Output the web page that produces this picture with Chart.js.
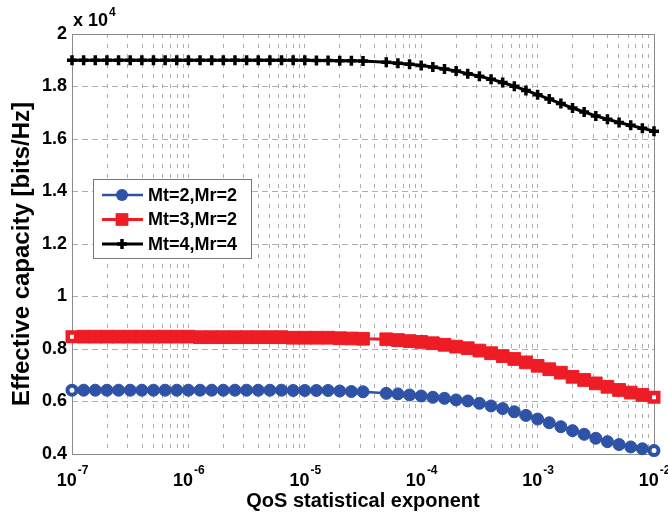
<!DOCTYPE html>
<html>
<head>
<meta charset="utf-8">
<script src="https://cdn.jsdelivr.net/npm/chart.js@4.4.1/dist/chart.umd.min.js"></script>
<style>
  html, body { margin: 0; padding: 0; background: #fff; }
  #wrap { width: 668px; height: 516px; }
</style>
</head>
<body>
<div id="wrap"><canvas id="chart" width="668" height="516"></canvas></div>
<script>
// log10 of the QoS exponent at each marker (the point near 4e-5 is missing in the original)
const xExp = [
  -7.0, -6.9, -6.8, -6.7, -6.6, -6.5, -6.4, -6.3, -6.2, -6.1,
  -6.0, -5.9, -5.8, -5.7, -5.6, -5.5, -5.4, -5.3, -5.2, -5.1,
  -5.0, -4.9, -4.8, -4.7, -4.6, -4.5,
  -4.3, -4.2, -4.1, -4.0, -3.9, -3.8, -3.7, -3.6, -3.5, -3.4,
  -3.3, -3.2, -3.1, -3.0, -2.9, -2.8, -2.7, -2.6, -2.5, -2.4,
  -2.3, -2.2, -2.1, -2.0
];

// effective capacity, bits/Hz
const capMt2Mr2 = [
  6430, 6430, 6430, 6430, 6430, 6430, 6430, 6430, 6430, 6430,
  6430, 6430, 6430, 6430, 6430, 6430, 6430, 6430, 6430, 6420,
  6420, 6420, 6420, 6400, 6380, 6370,
  6310, 6290, 6250, 6210, 6160, 6120, 6060, 6020, 5930, 5830,
  5730, 5610, 5470, 5330, 5190, 5040, 4890, 4750, 4600, 4470,
  4360, 4270, 4200, 4130
];
const capMt3Mr2 = [
  8470, 8470, 8470, 8470, 8470, 8470, 8470, 8470, 8470, 8470,
  8470, 8450, 8450, 8450, 8450, 8450, 8450, 8450, 8450, 8430,
  8430, 8430, 8430, 8410, 8400, 8390,
  8370, 8340, 8300, 8270, 8220, 8160, 8090, 8030, 7940, 7840,
  7730, 7620, 7490, 7360, 7230, 7100, 6940, 6820, 6690, 6560,
  6440, 6340, 6250, 6160
];
const capMt4Mr4 = [
  19000, 19000, 19000, 19000, 19000, 19000, 19000, 19000, 19000, 19000,
  19000, 19000, 19000, 19000, 19000, 19000, 19000, 19000, 19000, 19000,
  19000, 18995, 18990, 18985, 18980, 18970,
  18920, 18890, 18850, 18800, 18740, 18670, 18590, 18490, 18390, 18280,
  18150, 18010, 17850, 17690, 17520, 17350, 17180, 17030, 16880, 16750,
  16630, 16520, 16410, 16300
];

const seriesLabels = ['Mt=2,Mr=2', 'Mt=3,Mr=2', 'Mt=4,Mr=4'];
const xLabelExps = [-7, -6, -5, -4, -3, -2];
const gridMultipliers = [1, 2, 3, 4, 5, 6, 7, 8, 9];
const xTitle = 'QoS statistical exponent';
const yTitle = 'Effective capacity [bits/Hz]';

const FONT = '"Liberation Sans", Arial, sans-serif';
const BLUE = '#2d52a6';
const RED = '#ee1c25';
const BLACK = '#000000';

const xGridValues = [];
xLabelExps.slice(0, -1).forEach(e => {
  gridMultipliers.forEach(m => xGridValues.push(m * Math.pow(10, e)));
});
xGridValues.push(Math.pow(10, xLabelExps[xLabelExps.length - 1]));

const toPoints = (ys) => xExp.map((e, i) => ({ x: Math.pow(10, e), y: ys[i] }));
const isEnd = (ctx) => ctx.dataIndex === 0 || ctx.dataIndex === xExp.length - 1;

// end markers are drawn hollow (white centre, thick rim) like the original
const styles = [
  { color: BLUE, style: 'circle', radius: 6, endRadius: 4.5, lineWidth: 2.5, pointBorder: 1, endBorder: 4 },
  { color: RED, style: 'rect', radius: 9, endRadius: 6, lineWidth: 3, pointBorder: 1, endBorder: 4.5 },
  { color: BLACK, style: 'cross', radius: 5, endRadius: 5, lineWidth: 3, pointBorder: 3.5, endBorder: 3.5 },
];

const drawMarker = (ctx, s, x, y) => {
  ctx.save();
  ctx.fillStyle = s.color;
  ctx.strokeStyle = s.color;
  if (s.style === 'circle') {
    ctx.beginPath();
    ctx.arc(x, y, s.radius, 0, Math.PI * 2);
    ctx.fill();
  } else if (s.style === 'rect') {
    const h = s.radius * Math.SQRT1_2;
    ctx.fillRect(x - h, y - h, 2 * h, 2 * h);
  } else {
    ctx.lineWidth = s.pointBorder;
    ctx.beginPath();
    ctx.moveTo(x - s.radius, y); ctx.lineTo(x + s.radius, y);
    ctx.moveTo(x, y - s.radius); ctx.lineTo(x, y + s.radius);
    ctx.stroke();
  }
  ctx.restore();
};

const decorations = {
  id: 'decorations',
  beforeDraw(chart) {
    const ctx = chart.ctx;
    ctx.save();
    ctx.fillStyle = '#fff';
    ctx.fillRect(0, 0, chart.width, chart.height);
    ctx.restore();
  },
  beforeDatasetsDraw(chart) {
    const { ctx, chartArea: a } = chart;
    ctx.save();
    ctx.strokeStyle = '#8a8a8a';
    ctx.lineWidth = 1;
    ctx.strokeRect(Math.round(a.left) + 0.5, Math.round(a.top) + 0.5,
      Math.round(a.right - a.left), Math.round(a.bottom - a.top));
    ctx.restore();
  },
  afterDraw(chart) {
    const { ctx, chartArea: a } = chart;
    const xs = chart.scales.x;
    ctx.save();
    ctx.fillStyle = '#000';
    ctx.textBaseline = 'alphabetic';
    ctx.textAlign = 'left';

    // x tick labels 10^k
    xLabelExps.forEach(e => {
      const px = xs.getPixelForValue(Math.pow(10, e));
      ctx.font = 'bold 18px ' + FONT;
      const wBase = ctx.measureText('10').width;
      const sup = String(e);
      ctx.font = 'bold 12px ' + FONT;
      const wSup = ctx.measureText(sup).width;
      const x0 = px - (wBase + wSup) / 2;
      ctx.font = 'bold 18px ' + FONT;
      ctx.fillText('10', x0, 486);
      ctx.font = 'bold 12px ' + FONT;
      ctx.fillText(sup, x0 + wBase + 1, 474);
    });

    // y multiplier
    ctx.font = 'bold 18px ' + FONT;
    ctx.fillText('x 10', a.left + 1, 26);
    const wm = ctx.measureText('x 10').width;
    ctx.font = 'bold 12px ' + FONT;
    ctx.fillText('4', a.left + 2 + wm, 16);

    // axis titles
    ctx.font = 'bold 20px ' + FONT;
    ctx.textAlign = 'center';
    ctx.textBaseline = 'middle';
    ctx.fillText(xTitle, (a.left + a.right) / 2, 501);
    ctx.save();
    ctx.translate(22, 254);
    ctx.rotate(-Math.PI / 2);
    ctx.font = 'bold 24px ' + FONT;
    ctx.fillText(yTitle, 0, 0);
    ctx.restore();

    // legend
    const lx = 93.5, ly = 179.5, lw = 158, lh = 79;
    ctx.fillStyle = '#fff';
    ctx.fillRect(lx, ly, lw, lh);
    ctx.strokeStyle = '#777';
    ctx.lineWidth = 1;
    ctx.strokeRect(lx, ly, lw, lh);
    ctx.textAlign = 'left';
    ctx.textBaseline = 'middle';
    ctx.font = 'bold 18px ' + FONT;
    seriesLabels.forEach((label, i) => {
      const s = styles[i];
      const y = 195 + i * 24.5;
      ctx.strokeStyle = s.color;
      ctx.lineWidth = s.lineWidth;
      ctx.beginPath();
      ctx.moveTo(102, y);
      ctx.lineTo(143, y);
      ctx.stroke();
      drawMarker(ctx, s, 122, y);
      ctx.fillStyle = '#000';
      ctx.fillText(label, 148, y + 1);
    });
    ctx.restore();
  }
};

const series = [capMt2Mr2, capMt3Mr2, capMt4Mr4];

new Chart(document.getElementById('chart').getContext('2d'), {
  type: 'line',
  data: {
    datasets: series.map((ys, i) => ({
      label: seriesLabels[i],
      data: toPoints(ys),
      borderColor: styles[i].color,
      borderWidth: styles[i].lineWidth,
      pointStyle: styles[i].style,
      pointRadius: (ctx) => isEnd(ctx) ? styles[i].endRadius : styles[i].radius,
      pointBorderWidth: (ctx) => isEnd(ctx) ? styles[i].endBorder : styles[i].pointBorder,
      pointBorderColor: styles[i].color,
      pointBackgroundColor: (ctx) => isEnd(ctx) ? '#ffffff' : styles[i].color,
      tension: 0,
      clip: false,
    })),
  },
  options: {
    responsive: false,
    devicePixelRatio: 1,
    animation: false,
    layout: { padding: { left: 0, right: 14, top: 34, bottom: 0 } },
    plugins: {
      legend: { display: false },
      tooltip: { enabled: false },
    },
    scales: {
      x: {
        type: 'logarithmic',
        min: 1e-7,
        max: 1e-2,
        afterBuildTicks: (scale) => {
          scale.ticks = xGridValues.map(v => ({ value: v }));
        },
        afterFit: (scale) => { scale.height = 62; },
        ticks: { display: false },
        grid: { color: '#adadad', lineWidth: 1, drawTicks: false },
        border: { display: false, dash: [4, 6] },
      },
      y: {
        min: 4000,
        max: 20000,
        afterFit: (scale) => { scale.width = 72; },
        ticks: {
          stepSize: 2000,
          padding: 5,
          color: '#000',
          font: { family: FONT, size: 18, weight: 'bold' },
          callback: (v) => String(Math.round(v / 1000) / 10),
        },
        grid: { color: '#adadad', lineWidth: 1, drawTicks: false },
        border: { display: false, dash: [6, 4] },
      },
    },
  },
  plugins: [decorations],
});
</script>
</body>
</html>
